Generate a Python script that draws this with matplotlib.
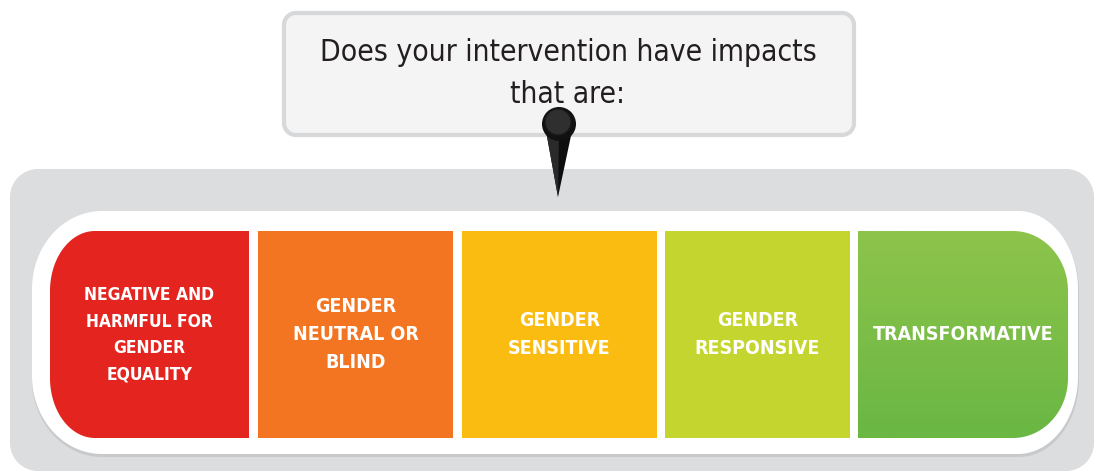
import numpy as np
import matplotlib.pyplot as plt
from matplotlib import font_manager
from matplotlib.path import Path
from matplotlib.patches import PathPatch, Circle, Polygon
from matplotlib.colors import LinearSegmentedColormap

question = ["Does your intervention have impacts", "that are:"]
categories = [
    "NEGATIVE AND\nHARMFUL FOR\nGENDER\nEQUALITY",
    "GENDER\nNEUTRAL OR\nBLIND",
    "GENDER\nSENSITIVE",
    "GENDER\nRESPONSIVE",
    "TRANSFORMATIVE",
]
colors = ["#e3241f", "#f47521", "#fbbc12", "#c5d52f", "#7bbd47"]
label_sizes = [12.5, 14, 14, 14, 14]

# segment edges in pixels (x0, x1)
seg_x = [(50, 249), (258, 453), (462, 657), (665, 850), (858, 1068)]
SEG_TOP, SEG_BOT = 232, 439

# pick a narrow font if there is one
narrow = None
for f in font_manager.fontManager.ttflist:
    s = f"{f.name} {f.fname}".lower()
    if "condensed" in s or "narrow" in s or f.stretch in ("condensed", "semi-condensed"):
        narrow = (f.name, f.stretch)
        if "mono" not in s and "serif" not in s:
            break
if narrow is None:
    narrow = ("Roboto", "normal")
FONT = dict(family=[narrow[0], "DejaVu Sans"], fontstretch=narrow[1])


def rounded_path(x0, y0, x1, y1, lrx, lry, rrx, rry, n=40):
    """Rectangle path with elliptical corners (y grows downwards)."""
    t = np.linspace(0, np.pi / 2, n)
    pts = []
    if lrx > 0:
        pts += [(x0 + lrx - lrx * np.cos(a), y0 + lry - lry * np.sin(a)) for a in t]
    else:
        pts.append((x0, y0))
    if rrx > 0:
        pts += [(x1 - rrx + rrx * np.sin(a), y0 + rry - rry * np.cos(a)) for a in t]
        pts += [(x1 - rrx + rrx * np.cos(a), y1 - rry + rry * np.sin(a)) for a in t]
    else:
        pts += [(x1, y0), (x1, y1)]
    if lrx > 0:
        pts += [(x0 + lrx - lrx * np.sin(a), y1 - lry + lry * np.cos(a)) for a in t]
    else:
        pts.append((x0, y1))
    pts.append(pts[0])
    codes = [Path.MOVETO] + [Path.LINETO] * (len(pts) - 2) + [Path.CLOSEPOLY]
    return Path(pts, codes)


fig = plt.figure(figsize=(10.96, 4.77), dpi=100)
ax = fig.add_axes([0, 0, 1, 1])
ax.set_xlim(0, 1096)
ax.set_ylim(477, 0)
ax.axis('off')

# grey panel
ax.add_patch(PathPatch(rounded_path(10, 170, 1094, 472, 28, 28, 28, 28),
                       fc="#dcddde", ec="none"))

# white capsule with soft shadow
ax.add_patch(PathPatch(rounded_path(32, 214, 1079, 458, 70, 78, 60, 78),
                       fc="#c3c4c5", ec="none", alpha=0.8))
ax.add_patch(PathPatch(rounded_path(32, 212, 1078, 455, 70, 78, 60, 78),
                       fc="white", ec="none"))

# segments
for i, (name, col, fs, (x0, x1)) in enumerate(zip(categories, colors, label_sizes, seg_x)):
    lrx = 45 if i == 0 else 0
    rrx = 55 if i == len(categories) - 1 else 0
    path = rounded_path(x0, SEG_TOP, x1, SEG_BOT, lrx, 60, rrx, 60)
    if i == len(categories) - 1:
        patch = PathPatch(path, fc="none", ec="none")
        ax.add_patch(patch)
        grad = np.linspace(0, 1, 100).reshape(-1, 1)
        cmap = LinearSegmentedColormap.from_list("g", ["#8dc44b", "#6ab744"])
        im = ax.imshow(grad, cmap=cmap, extent=(x0, x1, SEG_BOT, SEG_TOP),
                       aspect='auto', origin='upper', zorder=2)
        im.set_clip_path(patch)
    else:
        ax.add_patch(PathPatch(path, fc=col, ec="none", zorder=2))
    ax.text((x0 + x1) / 2, 335, name, ha='center', va='center', color='white',
            fontsize=fs, fontweight='bold', linespacing=1.6, zorder=3, **FONT)

# callout box
ax.add_patch(PathPatch(rounded_path(284, 14, 854, 136, 12, 12, 12, 12),
                       fc="#f4f4f5", ec="#d7d8d9", lw=3))
ax.text(568, 61, question[0], ha='center', va='baseline', fontsize=21.5,
        color="#231f20", **FONT)
ax.text(568, 103, question[1], ha='center', va='baseline', fontsize=21.5,
        color="#231f20", **FONT)

# pointer
ax.add_patch(Polygon([(546, 132), (572, 132), (558, 198)], closed=True,
                     fc="#0e0e0e", ec="none", zorder=4))
ax.add_patch(Polygon([(546, 132), (559, 132), (558, 198)], closed=True,
                     fc="#2a2a2a", ec="none", zorder=4))
ax.add_patch(Circle((559, 125), 17, fc="#111111", ec="none", zorder=5))
ax.add_patch(Circle((558, 123), 13, fc="#2f2f2f", ec="#1a1a1a", lw=1, zorder=5))

fig.savefig("out.png", dpi=100)
